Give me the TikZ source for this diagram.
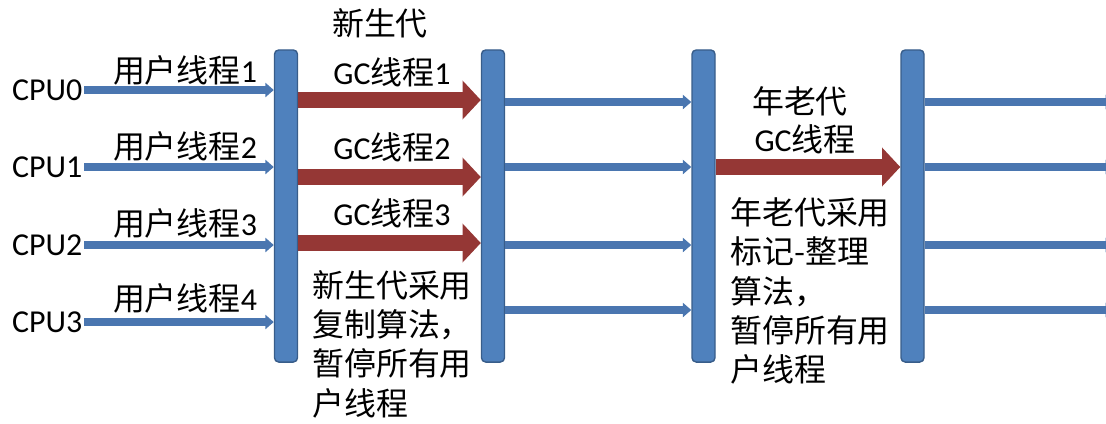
\documentclass[tikz,border=0pt]{standalone}
\usepackage{fontspec}
\setmainfont{Carlito}
\newfontfamily\cjk{Noto Sans CJK SC}
\usetikzlibrary{arrows.meta}

\definecolor{barblue}{RGB}{79,129,189}
\definecolor{barline}{RGB}{56,93,138}
\definecolor{lineblue}{RGB}{74,118,176}
\definecolor{gcred}{RGB}{149,55,53}

\begin{document}
\begin{tikzpicture}[
  x=0.025cm, y=-0.025cm,
  every node/.style={font=\fontsize{22.7}{28}\selectfont},
  cn/.style={font=\cjk\fontsize{22.7}{28}\selectfont},
  bar/.style={draw=barline, fill=barblue, line width=1pt, rounded corners=3pt, minimum width=0.575cm, minimum height=7.8cm},
  thread/.style={draw=lineblue, line width=5pt, -{Triangle[length=6pt,width=10pt]}},
  gcarrow/.style={draw=gcred, line width=12pt, -{Triangle[length=13pt,width=27pt]}},
  note/.style={cn, align=left, anchor=west, inner sep=0pt}
]
\useasboundingbox (0,0) rectangle (1106,423);

% Safepoint bars
\foreach \x [count=\i] in {286,493,703.5,912.5} {
  \node[bar] (bar\i) at (\x,206) {};
}

% CPUs and user threads
\foreach \y [count=\i from 0] in {90,167,245,322} {
  \node[anchor=east, inner sep=1pt] (cpu\i) at (84,\y) {CPU\i};
  \draw[thread] (cpu\i.east) -- (cpu\i.east -| bar1.west);
}
\foreach \y [count=\i] in {70,146,223,298} {
  \node (user\i) at (185,\y) {{\cjk 用户线程}\i};
}

% Young generation GC threads
\node[cn] (young) at (380,23) {新生代};
\foreach \y [count=\i] in {72,147,213} {
  \node (gc\i) at (392,\y) {GC{\cjk 线程}\i};
}
\foreach \y [count=\i] in {100,177,243} {
  \coordinate (young\i) at (0,\y);
  \draw[gcarrow] (bar1.east |- young\i) -- (bar2.west |- young\i);
}
\node[note] (youngnote) at (312,344) {新生代采用\\复制算法，\\暂停所有用\\户线程};

% User threads again
\coordinate (edge) at (1114,0);
\foreach \y [count=\i] in {102,167,245,310} {
  \coordinate (row\i) at (0,\y);
  \draw[thread] (bar2.east |- row\i) -- (bar3.west |- row\i);
  \draw[thread] (bar4.east |- row\i) -- (edge |- row\i);
}

% Old generation GC thread
\node[cn] (old) at (800,101) {年老代};
\node (oldgc) at (805,139) {GC{\cjk 线程}};
\coordinate (oldrow) at (0,167);
\draw[gcarrow] (bar3.east |- oldrow) -- (bar4.west |- oldrow);
\node[note] (oldnote) at (730,291) {年老代采用\\标记-整理\\算法，\\暂停所有用\\户线程};

\end{tikzpicture}
\end{document}
